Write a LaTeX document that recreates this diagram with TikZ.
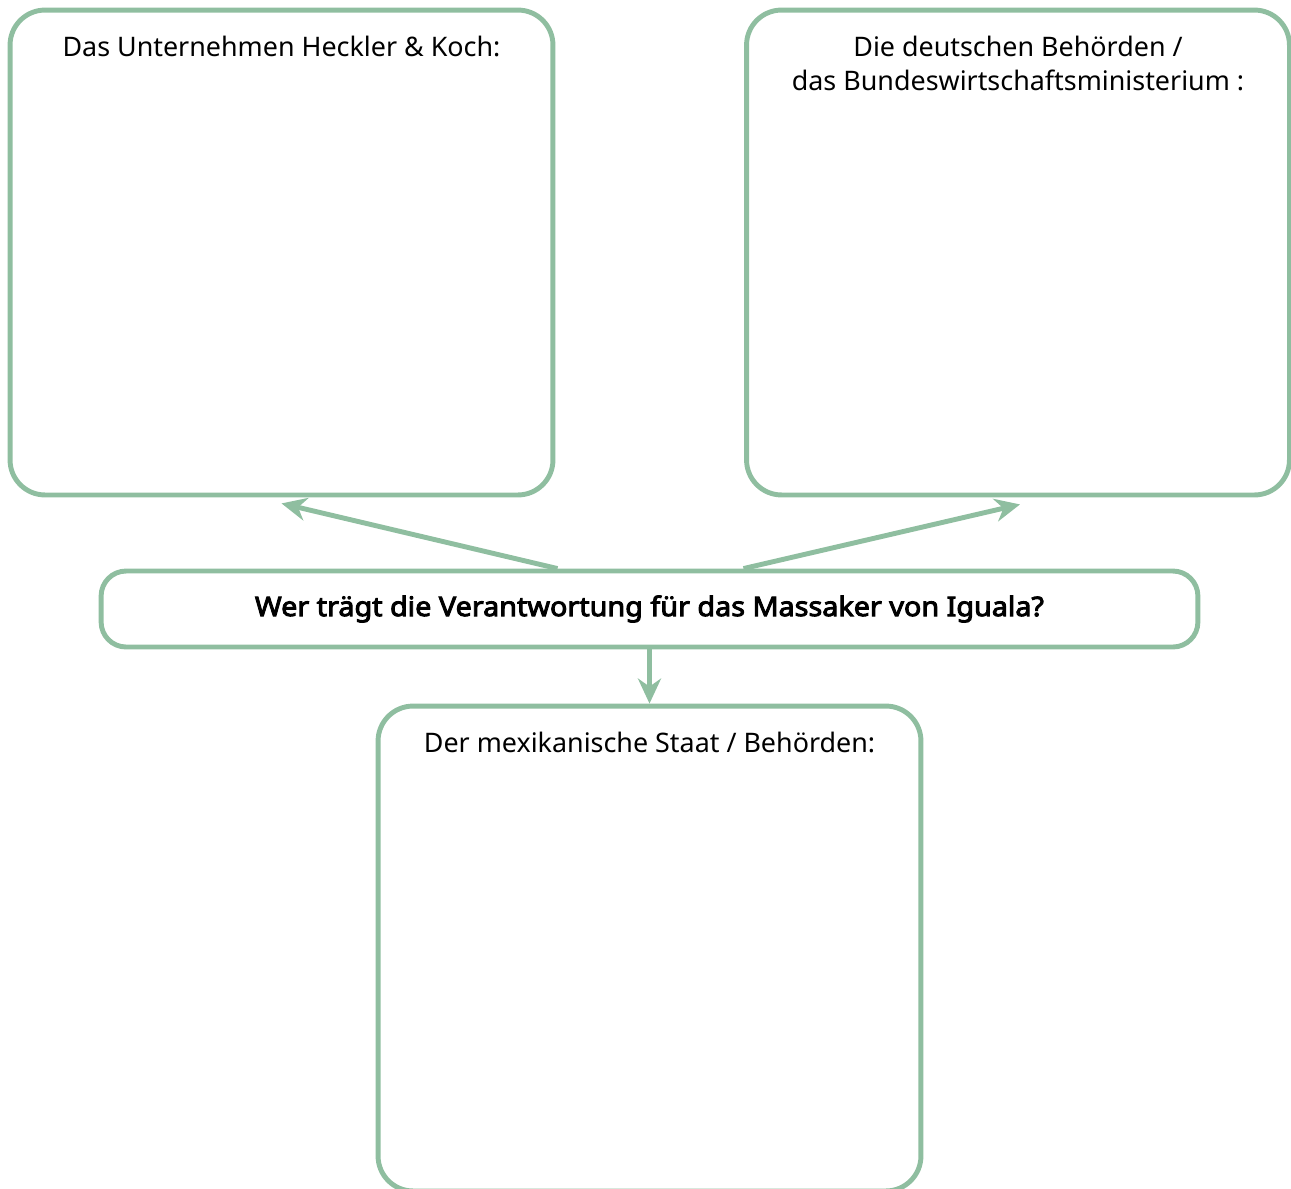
\documentclass[tikz,border=0pt]{standalone}
\usepackage{fontspec}
\setmainfont{Noto Sans}[BoldFont={Noto Sans}, BoldFeatures={FakeBold=3.5, FakeStretch=1.07}]
\usepackage{tikz}
\usetikzlibrary{arrows.meta,calc,positioning}
\definecolor{rahmengruen}{RGB}{143,190,160}

\tikzset{
  kasten/.style={draw=rahmengruen, line width=2.8pt, rounded corners=0.7cm, minimum width=10.86cm, minimum height=9.7cm},
  frage/.style={draw=rahmengruen, line width=2.8pt, rounded corners=0.5cm, minimum width=21.94cm, minimum height=1.52cm, font=\fontsize{15.3}{17}\selectfont\bfseries},
  titel/.style={anchor=north, align=center, font=\fontsize{15.3}{19.6}\selectfont, inner sep=0pt},
  pfeil/.style={draw=rahmengruen, line width=2.8pt, -{Stealth[length=0.5cm,width=0.46cm,inset=0.16cm]}}
}

\begin{document}
\begin{tikzpicture}[x=0.02cm,y=-0.02cm]
\useasboundingbox (0,0) rectangle (1291,1188);
\node[kasten] (hk) at (281.5,252.5) {};
\node[kasten] (bmwi) at (1018,252.5) {};
\node[frage] (frage) at (649.5,609) {Wer trägt die Verantwortung für das Massaker von Iguala?};
\node[kasten] (mex) at (649.5,948.5) {};

\node[titel] (hktitel) at ($(hk.north)+(0,28)$) {Das Unternehmen Heckler \& Koch:};
\node[titel] (bmwititel) at ($(bmwi.north)+(0,28)$) {Die deutschen Behörden /\\das Bundeswirtschaftsministerium :};
\node[titel] (mextitel) at ($(mex.north)+(0,28)$) {Der mexikanische Staat / Behörden:};

% Pfeile von der Frage zu den Kästen
\draw[pfeil] ($(frage.north)+(-92,0)$) -- ($(hk.south)+(0,6)$);
\draw[pfeil] ($(frage.north)+(94,0)$) -- ($(bmwi.south)+(2,7)$);
\draw[pfeil] (frage.south) -- (mex.north);
\end{tikzpicture}
\end{document}
